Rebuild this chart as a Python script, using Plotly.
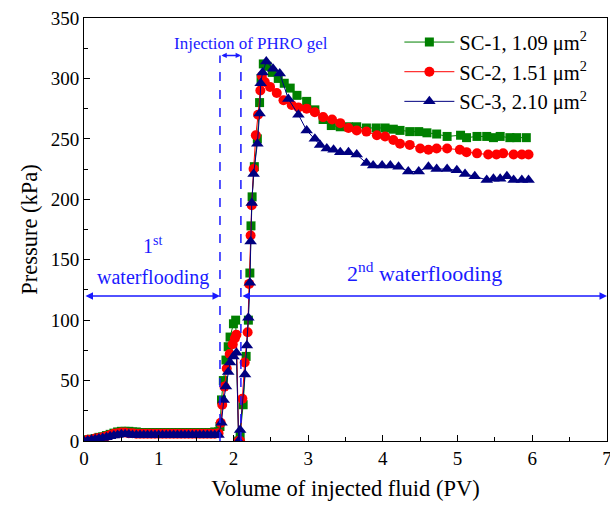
import plotly.graph_objects as go

# ---------------- data ----------------
x_early = [0.00, 0.05, 0.10, 0.15, 0.20, 0.25, 0.30, 0.35, 0.40, 0.45, 0.50, 0.55, 0.60,
           0.65, 0.70, 0.75, 0.80, 0.85, 0.90, 0.95, 1.00, 1.05, 1.10, 1.15, 1.20, 1.25,
           1.30, 1.35, 1.40, 1.45, 1.50, 1.55, 1.60, 1.65, 1.70, 1.75, 1.80]

sc1_early = [0.5, 1.0, 1.5, 2.0, 3.0, 3.5, 4.5, 5.5, 6.5, 7.5, 8.0, 8.0, 8.0,
             7.5, 7.5, 7.0, 7.0, 7.0, 7.0, 7.0, 7.0, 7.0, 7.0, 7.0, 7.0, 7.0,
             7.0, 7.0, 7.0, 7.0, 7.0, 7.0, 7.0, 7.0, 7.0, 7.5, 7.5]
sc2_early = [0.0, 1.0, 1.0, 2.0, 2.5, 3.0, 4.0, 5.0, 6.0, 6.5, 7.0, 7.0, 6.5,
             6.5, 6.0, 6.0, 6.0, 6.0, 6.0, 6.0, 6.0, 6.0, 6.0, 6.0, 6.0, 6.0,
             6.0, 6.0, 6.0, 6.0, 6.0, 6.0, 6.0, 6.0, 6.0, 6.0, 6.5]
sc3_early = [0.0, 0.5, 1.0, 1.5, 2.0, 2.5, 3.0, 4.0, 4.5, 5.0, 5.5, 5.5, 5.5,
             5.0, 5.0, 5.0, 5.0, 5.0, 5.0, 5.0, 5.0, 5.0, 5.0, 5.0, 5.0, 5.0,
             5.0, 5.0, 5.0, 5.0, 5.0, 5.0, 5.0, 5.0, 5.0, 5.0, 5.0]

# gel injection + 2nd waterflooding
sc1_x = [1.82, 1.84, 1.865, 1.90, 1.93, 1.955, 2.00, 2.03, 2.07, 2.09, 2.13, 2.17, 2.20,
         2.22, 2.235, 2.25, 2.28, 2.32, 2.35, 2.37, 2.40, 2.45, 2.52, 2.60, 2.68, 2.76,
         2.85, 2.98, 3.09, 3.20, 3.31, 3.43, 3.54, 3.65, 3.78, 3.91, 4.03, 4.14, 4.23,
         4.36, 4.48, 4.59, 4.72, 4.86, 5.04, 5.12, 5.26, 5.39, 5.48, 5.57, 5.70, 5.79, 5.92]
sc1_y = [12, 34, 50, 67, 78, 86, 97, 100, 0, 5, 30, 70, 100,
         139, 178, 202, 227, 250, 280, 300, 312, 310, 305, 300, 296, 292,
         286, 281, 274, 266, 261, 260, 260, 260, 259, 259, 259, 258, 257,
         256, 256, 255, 254, 252, 253, 251, 252, 252, 251, 252, 251, 251, 251]

sc2_x = [1.83, 1.85, 1.88, 1.91, 1.95, 1.99, 2.02, 2.04, 2.07, 2.09, 2.12, 2.15, 2.19,
         2.21, 2.23, 2.245, 2.27, 2.30, 2.33, 2.36, 2.38, 2.42, 2.49, 2.58, 2.67, 2.78,
         2.87, 2.98, 3.09, 3.20, 3.32, 3.43, 3.54, 3.65, 3.78, 3.92, 4.03, 4.14, 4.23,
         4.36, 4.50, 4.61, 4.72, 4.86, 5.03, 5.12, 5.26, 5.41, 5.52, 5.61, 5.75, 5.86, 5.95]
sc2_y = [15, 30, 45, 60, 72, 80, 85, 88, 0, 0, 35, 65, 90,
         130, 170, 195, 225, 253, 270, 290, 302, 297, 293, 288, 282, 278,
         276, 275, 272, 268, 266, 263, 259, 257, 256, 253, 252, 249, 246,
         245, 242, 241, 242, 242, 241, 239, 238, 237, 237, 238, 237, 237, 237]

sc3_x = [1.84, 1.87, 1.90, 1.93, 1.955, 2.00, 2.04, 2.07, 2.09, 2.155, 2.18, 2.20, 2.22,
         2.23, 2.245, 2.27, 2.32, 2.35, 2.365, 2.39, 2.44, 2.53, 2.62, 2.735, 2.87, 2.98,
         3.09, 3.16, 3.25, 3.34, 3.43, 3.54, 3.65, 3.78, 3.87, 3.99, 4.10, 4.21, 4.34,
         4.48, 4.61, 4.72, 4.86, 4.99, 5.10, 5.23, 5.39, 5.48, 5.57, 5.66, 5.75, 5.86, 5.95]
sc3_y = [15, 34, 45, 57, 65, 70, 73, 0, 9, 55, 79, 102, 131,
         165, 197, 221, 246, 271, 296, 305, 314, 308, 304, 283, 270, 257,
         250, 245, 242, 241, 239, 239, 237, 230, 228, 228, 228, 227, 223,
         223, 227, 225, 225, 224, 221, 219, 216, 217, 217, 219, 216, 216, 216]

names = ["SC-1, 1.09 μm<sup>2</sup>", "SC-2, 1.51 μm<sup>2</sup>", "SC-3, 2.10 μm<sup>2</sup>"]

x_ticks = [0, 1, 2, 3, 4, 5, 6, 7]
y_ticks = [0, 50, 100, 150, 200, 250, 300, 350]

# ---------------- figure ----------------
FONT = "Liberation Serif"
BLUE = "#1a1aff"

fig = go.Figure()
series = [
    (x_early + sc1_x, sc1_early + sc1_y, names[0], "#008000", "square", 9),
    (x_early + sc2_x, sc2_early + sc2_y, names[1], "#ff0000", "circle", 10),
    (x_early + sc3_x, sc3_early + sc3_y, names[2], "#000080", "triangle-up", 11),
]
for xs, ys, nm, col, sym, sz in series:
    fig.add_trace(go.Scatter(
        x=xs, y=ys, name=nm, mode="lines+markers",
        line=dict(color=col, width=1),
        marker=dict(color=col, symbol=sym, size=sz, line=dict(width=0)),
    ))

# dashed gel-injection boundaries
for xv in [1.82, 2.10]:
    fig.add_shape(type="line", x0=xv, x1=xv, y0=0, y1=319, xref="x", yref="y",
                  line=dict(color=BLUE, width=1.5, dash="dash"))

arrow_style = dict(showarrow=True, arrowhead=2, arrowsize=1, arrowwidth=1.5,
                   arrowcolor=BLUE, arrowside="end+start", text="",
                   xref="x", yref="y", axref="x", ayref="y",
                   standoff=0, startstandoff=0)
# gel arrow
fig.add_annotation(x=2.10, y=319, ax=1.82, ay=319, **{**arrow_style, "arrowsize": 0.7})
# 1st waterflooding arrow
fig.add_annotation(x=1.82, y=120, ax=0.0, ay=120, **arrow_style)
# 2nd waterflooding arrow
fig.add_annotation(x=7.0, y=120, ax=2.10, ay=120, **arrow_style)

fig.add_annotation(x=2.24, y=329, text="Injection of PHRO gel", showarrow=False,
                   xref="x", yref="y", font=dict(family=FONT, size=17, color=BLUE))
fig.add_annotation(x=0.92, y=162, text="1<sup>st</sup>", showarrow=False,
                   xref="x", yref="y", font=dict(family=FONT, size=20, color=BLUE))
fig.add_annotation(x=0.92, y=135, text="waterflooding", showarrow=False,
                   xref="x", yref="y", font=dict(family=FONT, size=20, color=BLUE))
fig.add_annotation(x=4.56, y=140, text="2<sup>nd</sup> waterflooding", showarrow=False,
                   xref="x", yref="y", font=dict(family=FONT, size=22, color=BLUE))

axis_common = dict(
    showline=True, linecolor="black", linewidth=1, mirror=True,
    ticks="inside", ticklen=6, tickwidth=1, tickcolor="black",
    showgrid=False, zeroline=False, ticklabeloverflow="allow", automargin=False,
    tickfont=dict(family=FONT, size=19, color="black"),
)
fig.update_xaxes(range=[0, 7], tickvals=x_ticks, ticktext=[str(v) for v in x_ticks],
                 minor=dict(ticks="inside", ticklen=4, dtick=0.5, tickcolor="black"),
                 title=dict(text="Volume of injected fluid (PV)",
                            font=dict(family=FONT, size=22.5, color="black"), standoff=12),
                 **axis_common)
fig.update_yaxes(range=[0, 350], tickvals=y_ticks, ticktext=[str(v) for v in y_ticks],
                 minor=dict(ticks="inside", ticklen=4, dtick=25, tickcolor="black"),
                 title=dict(text="Pressure (kPa)",
                            font=dict(family=FONT, size=22.5, color="black"), standoff=6),
                 **axis_common)

fig.update_layout(
    width=610, height=511,
    margin=dict(l=84, r=3, t=18, b=70),
    plot_bgcolor="white", paper_bgcolor="white",
    legend=dict(x=0.603, y=0.99, xanchor="left", yanchor="top",
                font=dict(family=FONT, size=20.5, color="black"),
                bgcolor="rgba(255,255,255,0)", borderwidth=0,
                itemwidth=50, tracegroupgap=0),
    showlegend=True,
)

fig.write_html("out.html")
